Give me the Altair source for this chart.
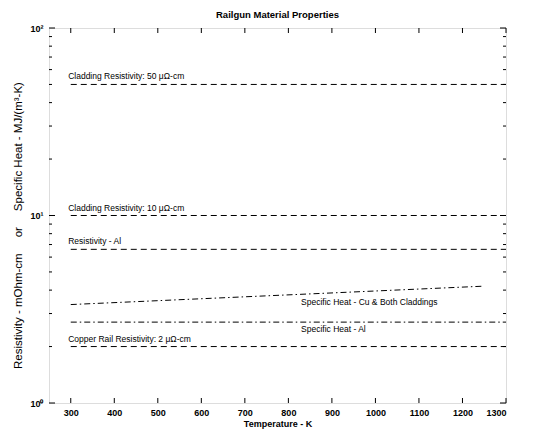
import altair as alt
import pandas as pd

# ---- data ----
series_names = [
    "Cladding Resistivity: 50 \u03bc\u03a9-cm",
    "Cladding Resistivity: 10 \u03bc\u03a9-cm",
    "Resistivity - Al",
    "Specific Heat - Cu & Both Claddings",
    "Specific Heat - Al",
    "Copper Rail Resistivity: 2 \u03bc\u03a9-cm",
]
series_x_start = [300, 300, 300, 300, 300, 300]
series_x_end = [1300, 1300, 1300, 1250, 1300, 1300]
series_y_start = [50, 10, 6.6, 3.35, 2.7, 2.0]
series_y_end = [50, 10, 6.6, 4.2, 2.7, 2.0]
series_style = ["dash", "dash", "dash", "dashdot", "dashdot", "dash"]

# annotation anchors (data units) and whether the text sits above or below its line
label_x = [294, 294, 294, 829, 829, 294]
label_y = [50, 10, 6.6, 3.75, 2.7, 2.0]
label_side = ["above", "above", "above", "below", "below", "above"]

x_ticks = [300, 400, 500, 600, 700, 800, 900, 1000, 1100, 1200, 1300]
y_major = [1, 10, 100]
y_minor = [2, 3, 4, 5, 6, 7, 8, 9, 20, 30, 40, 50, 60, 70, 80, 90]

rows = []
for n, x0, x1, y0, y1, s in zip(series_names, series_x_start, series_x_end,
                                series_y_start, series_y_end, series_style):
    rows.append({"name": n, "x": x0, "y": y0, "style": s, "order": 0})
    rows.append({"name": n, "x": x1, "y": y1, "style": s, "order": 1})
lines_df = pd.DataFrame(rows)
labels_df = pd.DataFrame({"name": series_names, "x": label_x, "y": label_y,
                          "side": label_side})

FONT = "Liberation Sans"
xscale = alt.Scale(domain=[250, 1300], nice=False, zero=False)
yscale = alt.Scale(type="log", domain=[1, 100], nice=False)

NB = "\u00a0"
ytitle = "Resistivity - mOhm-cm" + NB * 5 + "or" + NB * 5 + "Specific Heat - MJ/(m\u00b3-K)"

base_x = alt.X("x:Q", scale=xscale, title="Temperature - K",
               axis=alt.Axis(values=x_ticks, grid=False, tickSize=0, domain=False,
                             format="d",
                             labelFont=FONT, labelFontSize=9, labelColor="black",
                             labelFontWeight="bold", labelPadding=5,
                             titleFont=FONT, titleFontSize=9, titleColor="black",
                             titleFontWeight="bold", titlePadding=2))
base_y = alt.Y("y:Q", scale=yscale, title=ytitle,
               axis=alt.Axis(values=y_major, grid=False, tickSize=0, domain=False,
                             labelExpr="datum.value == 1 ? '10\u2070' : datum.value == 10 ? '10\u00b9' : '10\u00b2'",
                             labelFont=FONT, labelFontSize=9, labelColor="black",
                             labelFontWeight="bold", labelPadding=6,
                             titleFont=FONT, titleFontSize=11.5, titleColor="black",
                             titleFontWeight="normal", titlePadding=6, titleY=197))

lines = alt.Chart(lines_df).mark_line(color="black", strokeWidth=1).encode(
    x=base_x,
    y=base_y,
    detail="name:N",
    order="order:Q",
    strokeDash=alt.StrokeDash("style:N",
                              scale=alt.Scale(domain=["dash", "dashdot"],
                                              range=[[6, 4], [6, 3, 1.5, 3]]),
                              legend=None),
)

labels_above = alt.Chart(labels_df).transform_filter("datum.side == 'above'").mark_text(
    align="left", baseline="alphabetic", dy=-5,
    font=FONT, fontSize=8.5, color="black").encode(
    x=alt.X("x:Q", scale=xscale), y=alt.Y("y:Q", scale=yscale), text="name:N")
labels_below = alt.Chart(labels_df).transform_filter("datum.side == 'below'").mark_text(
    align="left", baseline="top", dy=3,
    font=FONT, fontSize=8.5, color="black").encode(
    x=alt.X("x:Q", scale=xscale), y=alt.Y("y:Q", scale=yscale), text="name:N")

# inside ticks
xt = pd.DataFrame({"x": x_ticks})
xticks_bottom = alt.Chart(xt).mark_rule(color="black").encode(
    x=alt.X("x:Q", scale=xscale), y=alt.value(375), y2=alt.value(370))
xticks_top = alt.Chart(xt).mark_rule(color="black").encode(
    x=alt.X("x:Q", scale=xscale), y=alt.value(0), y2=alt.value(5))
ymaj = pd.DataFrame({"y": y_major})
ymin = pd.DataFrame({"y": y_minor})
yl_maj = alt.Chart(ymaj).mark_rule(color="black").encode(
    y=alt.Y("y:Q", scale=yscale), x=alt.value(0), x2=alt.value(6))
yr_maj = alt.Chart(ymaj).mark_rule(color="black").encode(
    y=alt.Y("y:Q", scale=yscale), x=alt.value(457), x2=alt.value(451))
yl_min = alt.Chart(ymin).mark_rule(color="black").encode(
    y=alt.Y("y:Q", scale=yscale), x=alt.value(0), x2=alt.value(3))
yr_min = alt.Chart(ymin).mark_rule(color="black").encode(
    y=alt.Y("y:Q", scale=yscale), x=alt.value(457), x2=alt.value(454))

chart = alt.layer(lines, labels_above, labels_below, xticks_bottom, xticks_top,
                  yl_maj, yr_maj, yl_min, yr_min).properties(
    width=457, height=375,
    title=alt.TitleParams("Railgun Material Properties", font=FONT, fontSize=9.5,
                          fontWeight="bold", color="black", offset=5),
    autosize=alt.AutoSizeParams(type="none"),
    padding={"left": 49, "top": 28, "right": 35, "bottom": 28},
).configure_view(stroke="black", strokeWidth=1.2).configure(background="white")

chart.save("out.html", embed_options={"renderer": "svg", "actions": False})
